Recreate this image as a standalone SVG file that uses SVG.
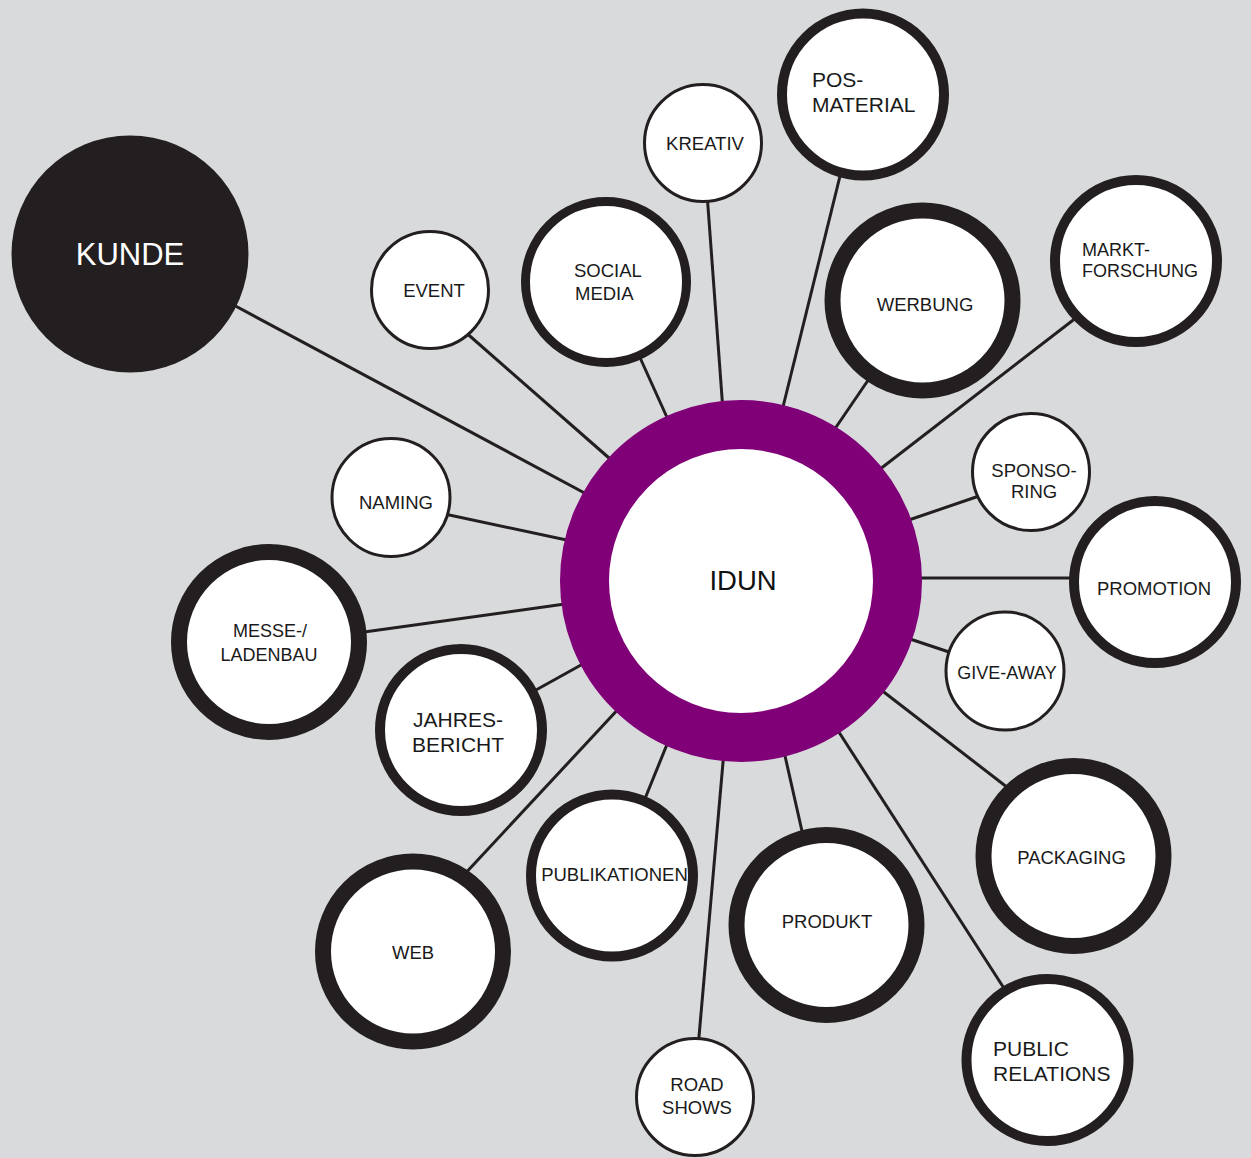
<svg xmlns="http://www.w3.org/2000/svg" width="1251" height="1158" viewBox="0 0 1251 1158">
<style>
.bg{fill:#d9dadc}
.ln{stroke:#231f20;stroke-width:3;fill:none}
.s{fill:#fff;stroke:#231f20;stroke-width:3}
.m{fill:#fff;stroke:#231f20;stroke-width:10}
.l{fill:#fff;stroke:#231f20;stroke-width:16}
text{font-family:"Liberation Sans",Arial,sans-serif;font-size:18.5px;fill:#1a1a1a;text-anchor:middle}
.st{text-anchor:start}
.big{font-size:21px}
</style>
<rect class="bg" x="0" y="0" width="1251" height="1158"/>
<g id="connectors">
<line class="ln" x1="592" y1="497" x2="228" y2="302"/>
<line class="ln" x1="617" y1="465" x2="463" y2="330"/>
<line class="ln" x1="670" y1="424" x2="637" y2="351"/>
<line class="ln" x1="723" y1="411" x2="707" y2="193"/>
<line class="ln" x1="781" y1="415" x2="842" y2="168"/>
<line class="ln" x1="830" y1="436" x2="873" y2="373"/>
<line class="ln" x1="875" y1="473" x2="1081" y2="314"/>
<line class="ln" x1="903" y1="522" x2="982" y2="495"/>
<line class="ln" x1="912" y1="578" x2="1080" y2="578"/>
<line class="ln" x1="904" y1="637" x2="955" y2="654"/>
<line class="ln" x1="876" y1="686" x2="1012" y2="791"/>
<line class="ln" x1="835" y1="726" x2="1009" y2="996"/>
<line class="ln" x1="783" y1="747" x2="804" y2="840"/>
<line class="ln" x1="724" y1="751" x2="698" y2="1048"/>
<line class="ln" x1="670" y1="737" x2="642" y2="806"/>
<line class="ln" x1="622" y1="705" x2="462" y2="877"/>
<line class="ln" x1="590" y1="660" x2="527" y2="695"/>
<line class="ln" x1="572" y1="603" x2="357" y2="633"/>
<line class="ln" x1="576" y1="542" x2="440" y2="513"/>
</g>
<g id="kunde"><circle cx="130" cy="254" r="118.5" fill="#231f20"/><text x="130" y="265" style="font-size:31px;fill:#fff">KUNDE</text></g>
<g id="idun"><circle cx="741" cy="581" r="156.5" fill="#fff" stroke="#800078" stroke-width="49"/><text x="743" y="590" style="font-size:27.5px;fill:#111">IDUN</text></g>
<g id="event"><circle class="s" cx="430" cy="290" r="58.5"/><text x="434" y="297">EVENT</text></g>
<g id="social-media"><circle class="m" cx="606" cy="282" r="80.5" style="stroke-width:9"/><text class="st" x="574" y="277">SOCIAL</text><text class="st" x="575" y="300">MEDIA</text></g>
<g id="kreativ"><circle class="s" cx="703" cy="143" r="58.5"/><text x="705" y="150">KREATIV</text></g>
<g id="pos-material"><circle class="m" cx="863" cy="94.5" r="81"/><text class="st big" x="812" y="87">POS-</text><text class="st big" x="812" y="112">MATERIAL</text></g>
<g id="werbung"><circle class="l" cx="922.5" cy="300.5" r="90"/><text x="925" y="311">WERBUNG</text></g>
<g id="marktforschung"><circle class="m" cx="1136" cy="261" r="81"/><text class="st" x="1082" y="256" style="font-size:18px">MARKT-</text><text class="st" x="1082" y="277" style="font-size:18px">FORSCHUNG</text></g>
<g id="sponsoring"><circle class="s" cx="1031" cy="472" r="58.5"/><text x="1034" y="477">SPONSO-</text><text x="1034" y="498">RING</text></g>
<g id="promotion"><circle class="m" cx="1155" cy="582" r="81"/><text x="1154" y="595">PROMOTION</text></g>
<g id="give-away"><circle class="s" cx="1005" cy="671" r="59"/><text x="1007" y="679" style="font-size:18px">GIVE-AWAY</text></g>
<g id="packaging"><circle class="l" cx="1073.5" cy="856" r="90"/><text x="1071.5" y="864">PACKAGING</text></g>
<g id="public-relations"><circle class="m" cx="1047.5" cy="1060" r="81"/><text class="st big" x="993" y="1056">PUBLIC</text><text class="st big" x="993" y="1081">RELATIONS</text></g>
<g id="produkt"><circle class="l" cx="826.5" cy="925" r="90"/><text x="827" y="928">PRODUKT</text></g>
<g id="road-shows"><circle class="s" cx="695" cy="1097" r="58.5"/><text x="697" y="1091">ROAD</text><text x="697" y="1114">SHOWS</text></g>
<g id="publikationen"><circle class="m" cx="612" cy="875.5" r="81"/><text x="614.5" y="881">PUBLIKATIONEN</text></g>
<g id="web"><circle class="l" cx="413" cy="951.5" r="90"/><text x="413" y="959">WEB</text></g>
<g id="jahresbericht"><circle class="m" cx="461" cy="730" r="81"/><text class="big" x="458" y="727">JAHRES-</text><text class="big" x="458" y="752">BERICHT</text></g>
<g id="messe-ladenbau"><circle class="l" cx="269" cy="642" r="90"/><text x="270" y="637" style="font-size:18px">MESSE-/</text><text x="269" y="661" style="font-size:18px">LADENBAU</text></g>
<g id="naming"><circle class="s" cx="391" cy="497.5" r="59"/><text x="396" y="509">NAMING</text></g>
</svg>
